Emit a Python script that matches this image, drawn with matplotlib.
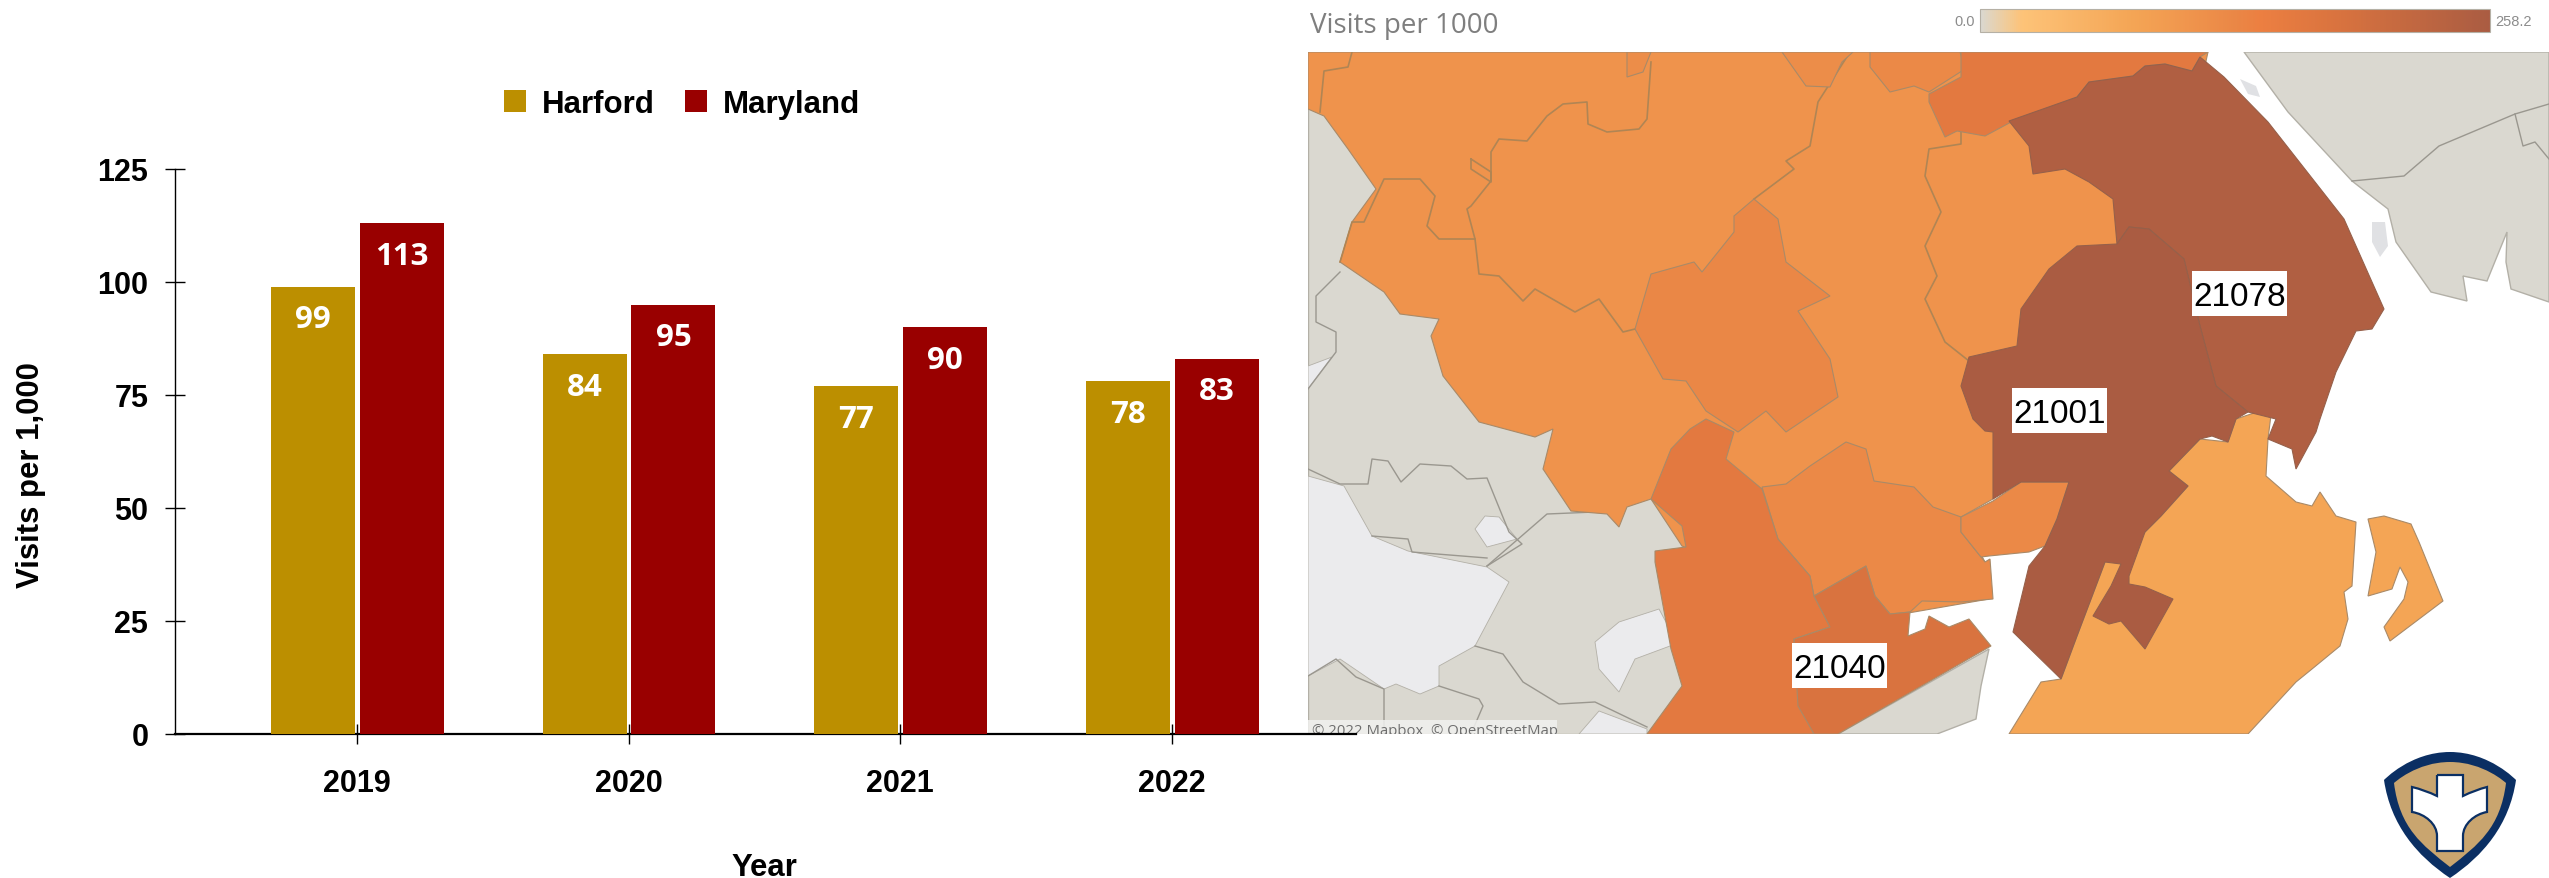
#!/usr/bin/env python
import matplotlib
matplotlib.use('Agg')
import numpy as np
import matplotlib.pyplot as plt
from matplotlib.colors import LinearSegmentedColormap, Normalize
from matplotlib.patches import PathPatch, Polygon, Rectangle
from matplotlib.path import Path

W, H = 2549, 879

# bar chart data
years = ['2019', '2020', '2021', '2022']
harford = [99, 84, 77, 78]
maryland = [113, 95, 90, 83]
y_ticks = [0, 25, 50, 75, 100, 125]

# colour scale of the map
scale_min, scale_max = 0.0, 258.2
scale_stops = [(0.0, '#DAD8D0'), (0.08, '#FDC378'), (0.3, '#F4A555'), (0.42, '#EF934C'), (0.5, '#EA8746'),
               (0.55, '#EC7F41'), (0.7, '#D9733F'), (1.0, '#AA5C42')]

# map shapes
land_west = [(1308, 53), (1700, 53), (1700, 735), (1308, 735)]
land_ne = [(2244, 53), (2549, 53), (2549, 303), (2511, 290), (2506, 263), (2507, 233), (2487, 282),
           (2463, 277), (2467, 302), (2431, 293), (2396, 243), (2388, 210), (2352, 182), (2288, 113)]
land_south = [(1838, 735), (1989, 650), (1981, 687), (1976, 720), (1937, 735)]
parks = [
    [(1308, 477), (1344, 487), (1372, 537), (1408, 552), (1487, 568), (1509, 583), (1475, 647), (1439, 667),
     (1439, 687), (1420, 695), (1396, 685), (1384, 690), (1340, 660), (1308, 677)],
    [(1595, 643), (1619, 623), (1659, 610), (1675, 640), (1670, 647), (1635, 660), (1619, 693), (1599, 670)],
    [(1475, 530), (1485, 517), (1499, 518), (1517, 540), (1487, 548)],
    [(1579, 735), (1599, 712), (1647, 730), (1647, 735)],
    [(1308, 367), (1332, 358), (1308, 390)],
]
river_spots = [
    [(2240, 80), (2256, 87), (2260, 98), (2248, 95)],
    [(2372, 223), (2385, 223), (2388, 247), (2380, 258), (2372, 243)],
]
land_lines = [
    [(2352, 182), (2404, 177), (2439, 147), (2515, 115), (2549, 105)],
    [(2515, 115), (2523, 147), (2535, 143), (2549, 160)],
    [(1308, 470), (1340, 485), (1368, 485), (1372, 460), (1388, 462), (1401, 483), (1420, 465), (1451, 467),
     (1467, 480), (1487, 479), (1509, 533), (1522, 545), (1487, 567)],
    [(1372, 537), (1408, 540), (1412, 553), (1487, 559)],
    [(1487, 567), (1547, 515), (1595, 513)],
    [(1475, 647), (1503, 655), (1523, 683), (1559, 705), (1595, 703), (1647, 728)],
    [(1308, 677), (1336, 660), (1356, 678), (1384, 690), (1384, 735)],
    [(1439, 687), (1479, 700), (1483, 707), (1471, 735)],
    [(1340, 273), (1316, 297), (1316, 323), (1336, 333), (1336, 353), (1308, 390)],
]

zip_values = [108, 77.5, 129, 126, 126, 160, 181, 126, 160, 120, 120, 77.5, 248, 258.2]
zip_shapes = [
    # the large orange block
    [(1308, 53), (2208, 53), (2176, 200), (2097, 300), (1993, 500), (1961, 518), (1985, 563), (1989, 600),
     (1914, 613), (1890, 617), (1814, 597), (1682, 547), (1651, 500), (1627, 508), (1619, 528), (1607, 515),
     (1571, 512), (1543, 470), (1553, 430), (1535, 438), (1479, 423), (1443, 377), (1431, 337), (1439, 320),
     (1400, 315), (1384, 293), (1340, 263), (1352, 223), (1376, 190), (1348, 150), (1324, 117), (1308, 110)],
    # south east peninsula
    [(2236, 420), (2272, 408), (2268, 440), (2266, 477), (2296, 503), (2312, 507), (2320, 493), (2336, 517),
     (2356, 523), (2352, 587), (2344, 593), (2348, 620), (2340, 647), (2312, 670), (2296, 683), (2248, 735),
     (2009, 735), (2041, 683), (2061, 680), (2077, 637), (2105, 563), (2145, 533), (2161, 517), (2188, 487),
     (2169, 472), (2200, 440), (2228, 443)],
    # centre
    [(1754, 200), (1778, 220), (1786, 263), (1830, 297), (1798, 312), (1830, 360), (1838, 398), (1786, 433),
     (1766, 412), (1738, 433), (1706, 412), (1686, 382), (1663, 380), (1635, 330), (1651, 275), (1694, 263),
     (1702, 273), (1734, 233), (1734, 217)],
    # below the centre
    [(1762, 488), (1786, 485), (1810, 467), (1846, 443), (1866, 450), (1874, 482), (1914, 488), (1933, 508),
     (1961, 518), (1961, 533), (1985, 563), (1990, 560), (1993, 600), (1961, 603), (1922, 602), (1910, 613),
     (1890, 615), (1875, 597), (1866, 567), (1814, 597), (1810, 577), (1778, 540)],
    # small one next to 21001
    [(1961, 518), (1993, 502), (2021, 483), (2069, 483), (2057, 520), (2045, 547), (2029, 553), (1989, 557),
     (1981, 558), (1961, 533)],
    # south west strip
    [(1706, 420), (1734, 433), (1726, 460), (1762, 490), (1778, 540), (1810, 577), (1814, 597), (1830, 628),
     (1794, 640), (1798, 690), (1814, 735), (1647, 735), (1682, 687), (1671, 650), (1655, 563), (1655, 552),
     (1686, 548), (1682, 527), (1651, 500), (1671, 450), (1690, 430)],
    # 21040
    [(1866, 567), (1875, 597), (1890, 615), (1910, 613), (1908, 637), (1925, 630), (1929, 617), (1949, 628),
     (1969, 620), (1991, 647), (1838, 735), (1814, 735), (1798, 707), (1794, 640), (1830, 628), (1814, 597)],
    # top small ones
    [(1870, 53), (1960, 53), (1965, 70), (1929, 93), (1914, 87), (1890, 93), (1870, 68)],
    [(1961, 53), (2208, 53), (2200, 58), (2192, 72), (2165, 65), (2145, 67), (2133, 77), (2089, 83), (2077, 98),
     (2013, 122), (1985, 137), (1957, 132), (1945, 138), (1929, 103), (1929, 95), (1961, 78)],
    [(1782, 53), (1806, 87), (1830, 88), (1842, 63), (1853, 53)],
    [(1627, 53), (1651, 53), (1643, 73), (1627, 78)],
    # island on the east side
    [(2368, 520), (2384, 517), (2411, 525), (2419, 543), (2443, 602), (2390, 642), (2384, 628), (2404, 600),
     (2408, 583), (2400, 568), (2392, 590), (2368, 597), (2376, 553)],
    # 21078
    [(2200, 58), (2224, 78), (2268, 123), (2344, 220), (2384, 310), (2372, 330), (2356, 332), (2336, 373),
     (2320, 420), (2316, 433), (2296, 470), (2292, 450), (2268, 440), (2276, 420), (2248, 413), (2216, 387),
     (2200, 327), (2184, 260), (2149, 230), (2129, 228), (2117, 245), (2113, 200), (2089, 183), (2065, 170),
     (2033, 175), (2029, 147), (2009, 122), (2077, 98), (2089, 83), (2133, 77), (2145, 67), (2165, 65), (2192, 72)],
    # 21001
    [(2129, 228), (2117, 245), (2077, 247), (2049, 270), (2021, 310), (2017, 347), (1969, 358), (1961, 387),
     (1973, 420), (1985, 432), (1993, 433), (1993, 500), (2021, 483), (2069, 483), (2057, 520), (2045, 547),
     (2029, 567), (2013, 633), (2061, 680), (2077, 637), (2105, 563), (2121, 565), (2111, 587), (2093, 617),
     (2109, 625), (2121, 622), (2145, 650), (2173, 600), (2145, 588), (2129, 585), (2129, 577), (2145, 533),
     (2161, 517), (2188, 487), (2169, 472), (2200, 440), (2212, 437), (2228, 443), (2236, 420), (2248, 413),
     (2216, 387), (2200, 327), (2184, 260), (2149, 230)],
]
# borders inside the large block
zip_lines = [
    [(1352, 53), (1348, 68), (1324, 72), (1320, 113)],
    [(1651, 63), (1647, 120), (1639, 130), (1607, 133), (1588, 125), (1587, 103), (1563, 105), (1547, 117),
     (1527, 142), (1499, 140), (1491, 153), (1491, 182), (1471, 207), (1467, 210), (1475, 240), (1479, 275),
     (1499, 277), (1523, 302), (1535, 290), (1575, 313), (1599, 300), (1623, 333), (1635, 330)],
    [(1340, 263), (1352, 223), (1364, 223), (1384, 180), (1420, 180), (1435, 197), (1427, 227), (1439, 240),
     (1475, 240)],
    [(1471, 160), (1471, 170), (1491, 183), (1491, 173), (1471, 160)],
    [(1850, 53), (1818, 103), (1810, 147), (1786, 162), (1794, 170), (1754, 200)],
    [(1961, 133), (1961, 145), (1929, 150), (1925, 177), (1941, 213), (1925, 247), (1937, 277), (1925, 300),
     (1945, 343), (1969, 362)],
]
zip_labels = ['21078', '21001', '21040']
zip_label_boxes = [(2192, 272, 95, 45), (2012, 389, 95, 45), (1792, 644, 95, 45)]

plt.rcParams['font.family'] = ['Liberation Sans', 'DejaVu Sans']

fig = plt.figure(figsize=(W / 100, H / 100), dpi=100, facecolor='white')


def px_axes(left, top, right, bottom, **kw):
    return fig.add_axes([left / W, 1 - bottom / H, (right - left) / W, (bottom - top) / H], **kw)


# ---- map ----
cmap = LinearSegmentedColormap.from_list('visits', scale_stops)
norm = Normalize(scale_min, scale_max)

mp = px_axes(1308, 53, 2549, 735)
mp.set_xlim(1308, 2549)
mp.set_ylim(735, 53)
mp.axis('off')

for shape in [land_west, land_ne, land_south]:
    mp.add_patch(Polygon(shape, fc='#DAD8D0', ec='#B3B0A7', lw=1.0, zorder=1))
for shape in parks:
    mp.add_patch(Polygon(shape, fc='#EBEBED', ec='#B3B0A7', lw=0.6, zorder=1.5))
for shape in river_spots:
    mp.add_patch(Polygon(shape, fc='#E0E1E4', ec='none', zorder=1.5))
for line in land_lines:
    xs, ys = zip(*line)
    mp.plot(xs, ys, color='#9A978F', lw=1.0, zorder=1.6)
for i, (val, shape) in enumerate(zip(zip_values, zip_shapes)):
    edge = '#96604A' if val > 200 else '#A98A68'
    mp.add_patch(Polygon(shape, fc=cmap(norm(val)), ec=edge, lw=0.8, zorder=2 + i * 0.01 if i else 2))
    if i == 0:
        for line in zip_lines:
            xs, ys = zip(*line)
            mp.plot(xs, ys, color='#B08554', lw=1.2, zorder=2.005)

for label, (x, y, w, h) in zip(zip_labels, zip_label_boxes):
    mp.add_patch(Rectangle((x, y), w, h, fc='white', ec='none', zorder=5))
    mp.text(x + w / 2, y + h / 2, label, fontsize=24, color='black', ha='center', va='center_baseline', zorder=6)

mp.add_patch(Rectangle((1308, 721), 249, 14, fc='#F1F1EF', ec='none', alpha=0.85, zorder=5))
mp.text(1312, 732, '© 2022 Mapbox  © OpenStreetMap', fontsize=10.7, color='#6E6E6E', ha='left', va='center',
        family=['Open Sans', 'DejaVu Sans'], zorder=6, clip_on=True)

# ---- map title and colour scale ----
fig.text(1310 / W, 1 - 26 / H, 'Visits per 1000', fontsize=20, color='#7F7F7F', ha='left', va='center',
         family=['Open Sans', 'DejaVu Sans'])
cb_ax = px_axes(1980, 10, 2490, 33)
cb = fig.colorbar(plt.cm.ScalarMappable(norm=norm, cmap=cmap), cax=cb_ax, orientation='horizontal')
cb.set_ticks([])
cb.outline.set_edgecolor('#B5B0A5')
cb.outline.set_linewidth(0.8)
fig.text(1975 / W, 1 - 22 / H, '0.0', fontsize=10.5, color='#8C8C8C', ha='right', va='center')
fig.text(2495 / W, 1 - 22 / H, '258.2', fontsize=10.5, color='#8C8C8C', ha='left', va='center')

# ---- bars ----
ax = px_axes(175, 170, 1356, 735, zorder=3)
ax.patch.set_alpha(0)
x = np.arange(len(years))
bar_w = 0.309
bars1 = ax.bar(x - 0.162, harford, bar_w, color='#BC8F00', label='Harford', zorder=3)
bars2 = ax.bar(x + 0.165, maryland, bar_w, color='#990000', label='Maryland', zorder=3)
ax.set_xlim((175 - 357) / 271.6, (1356 - 357) / 271.6)
ax.set_ylim(0, 125)
ax.set_xticks(x, years)
ax.set_yticks(y_ticks)
ax.spines[['top', 'right']].set_visible(False)
ax.spines['bottom'].set_linewidth(1.6)
ax.spines['left'].set_linewidth(1.0)
ax.tick_params(axis='x', direction='inout', length=14.4, width=1.0, pad=17.5)
ax.tick_params(axis='y', direction='inout', length=14.4, width=1.0, pad=12)
for t in ax.get_xticklabels() + ax.get_yticklabels():
    t.set_fontsize(22)
    t.set_fontweight('bold')

for container in (bars1, bars2):
    for t in ax.bar_label(container, padding=-23.5, color='white', fontsize=22.5, fontweight='bold',
                          family=['Open Sans', 'DejaVu Sans']):
        t.set_va('center')

fig.text(31 / W, 1 - 475 / H, 'Visits per 1,000', fontsize=22.4, fontweight='bold', rotation=90,
         ha='center', va='center')
fig.text(764 / W, 1 - 868 / H, 'Year', fontsize=22.4, fontweight='bold', ha='center', va='center')

fig.legend(handles=[bars1, bars2], loc='center', bbox_to_anchor=(682 / W, 1 - 105 / H), ncol=2, frameon=False,
           prop={'family': 'Liberation Sans', 'weight': 'bold', 'size': 22.5}, handlelength=0.71, handleheight=0.71,
           handletextpad=0.52, columnspacing=0.94, borderpad=0, borderaxespad=0)

# ---- logo ----
logo = px_axes(0, 0, W, H, zorder=4)
logo.set_xlim(0, W)
logo.set_ylim(H, 0)
logo.axis('off')
C4, C3, L, M = Path.CURVE4, Path.CURVE3, Path.LINETO, Path.MOVETO


def shield(cx, top, half, side_y, tip):
    verts = [(cx, top), (cx + half * 0.6, top), (cx + half, side_y), (cx + half, side_y),
             (cx + half * 0.9, side_y + 45), (cx + half * 0.5, tip - 22), (cx, tip),
             (cx - half * 0.5, tip - 22), (cx - half * 0.9, side_y + 45), (cx - half, side_y),
             (cx - half, side_y), (cx - half * 0.6, top), (cx, top)]
    return Path(verts, [M, C4, C4, C4, C4, C4, C4, C4, C4, C4, C4, C4, C4])


logo.add_patch(PathPatch(shield(2450, 753, 66, 781, 879), fc='#0B2F63', ec='none'))
logo.add_patch(PathPatch(shield(2450, 763, 56, 784, 868), fc='#C9A56F', ec='none'))
cross_verts = [(2437, 776), (2463, 776), (2463, 797), (2475, 791), (2487, 788), (2487, 813), (2475, 815), (2463, 825),
               (2463, 837), (2463, 852), (2437, 852), (2437, 837), (2437, 825), (2425, 815), (2412, 813), (2412, 788),
               (2425, 791), (2437, 797), (2437, 776)]
cross_codes = [M, L, L, C3, C3, L, C4, C4, C4, L, L, L, C4, C4, C4, L, C3, C3, L]
logo.add_patch(PathPatch(Path(cross_verts, cross_codes), fc='white', ec='#0B2F63', lw=1.6))

fig.savefig('out.png', dpi=100)
